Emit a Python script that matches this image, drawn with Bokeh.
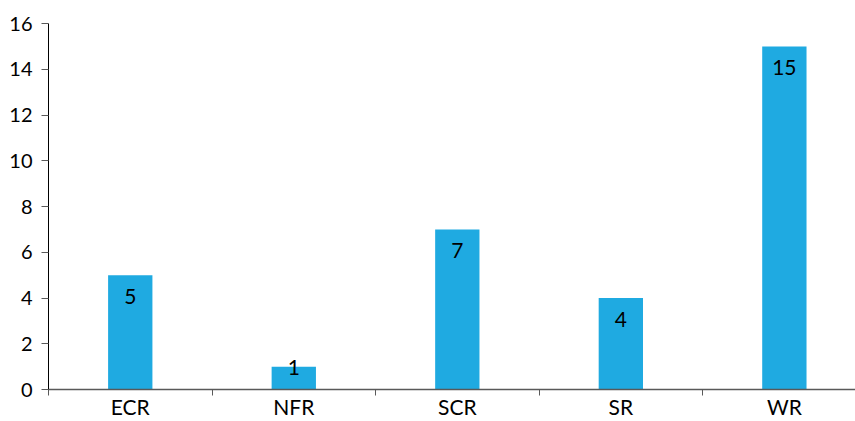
from bokeh.plotting import figure
from bokeh.models import Range1d, FixedTicker, ColumnDataSource
from bokeh.core.properties import value
from bokeh.embed import file_html
from bokeh.resources import INLINE

categories = ["ECR", "NFR", "SCR", "SR", "WR"]
counts = [5, 1, 7, 4, 15]
y_ticks = [0, 2, 4, 6, 8, 10, 12, 14, 16]

FONT = "Lato"
xs = [i + 0.5 for i in range(len(categories))]
# labels sit inside the bar end; a bar too short for its label gets it lifted over its top
label_offsets = [14 if c >= 2 else -7 for c in counts]

p = figure(width=855, height=421, output_backend="svg", toolbar_location=None,
           x_range=Range1d(0, 4.935), y_range=Range1d(0, 16),
           min_border_left=48, min_border_right=0, min_border_top=23, min_border_bottom=32)
p.outline_line_color = None
p.xgrid.visible = False
p.ygrid.visible = False

src = ColumnDataSource(dict(x=xs, top=counts, lab=[str(c) for c in counts], off=label_offsets))
p.vbar(x="x", top="top", bottom=0, width=0.271, source=src, fill_color="#1FAAE1", line_color=None)
p.text(x="x", y="top", text="lab", source=src, text_align="center", text_baseline="top",
       y_offset="off", text_font=value(FONT), text_font_size="21px", text_color="#000000")

xa = p.xaxis[0]
xa.ticker = FixedTicker(ticks=xs, minor_ticks=list(range(len(categories) + 1)))
xa.major_label_overrides = {x: c for x, c in zip(xs, categories)}
xa.major_tick_out = 0
xa.major_tick_in = 0
xa.minor_tick_out = 6
xa.minor_tick_in = 0
xa.minor_tick_line_color = "#595959"
xa.axis_line_color = "#595959"
xa.axis_line_width = 1.5
xa.major_label_text_font = FONT
xa.major_label_text_font_size = "21px"
xa.major_label_text_color = "#000000"
xa.major_label_standoff = -2

ya = p.yaxis[0]
ya.ticker = FixedTicker(ticks=y_ticks, minor_ticks=[])
ya.major_tick_out = 7
ya.major_tick_in = 0
ya.major_tick_line_color = "#595959"
ya.axis_line_color = "#000000"
ya.major_label_text_font = FONT
ya.major_label_text_font_size = "20px"
ya.major_label_text_color = "#000000"
ya.major_label_standoff = 9

open("out.html", "w").write(file_html(p, INLINE))
